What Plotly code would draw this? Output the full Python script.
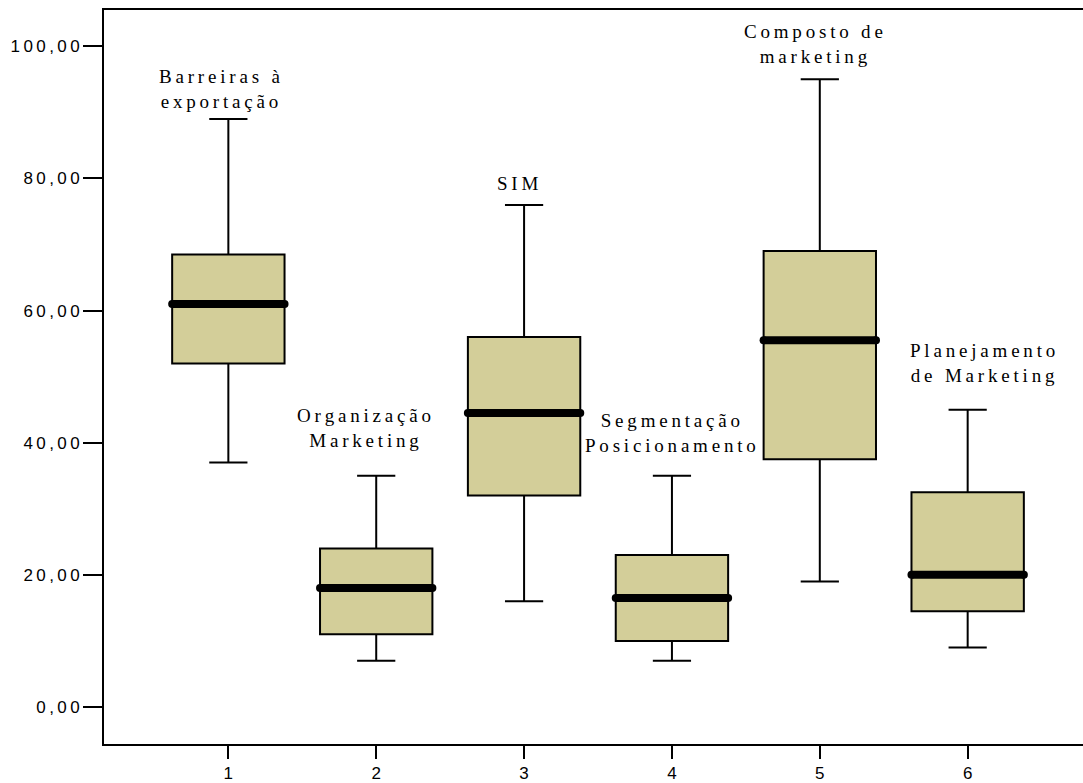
import plotly.graph_objects as go

# Five-number summaries for each group
positions = [1, 2, 3, 4, 5, 6]
lower_whisker = [37.0, 7.0, 16.0, 7.0, 19.0, 9.0]
q1_values = [52.0, 11.0, 32.0, 10.0, 37.5, 14.5]
median_values = [61.0, 18.0, 44.5, 16.5, 55.5, 20.0]
q3_values = [68.5, 24.0, 56.0, 23.0, 69.0, 32.5]
upper_whisker = [89.0, 35.0, 76.0, 35.0, 95.0, 45.0]

group_labels = [
    ["Barreiras à", "exportação"],
    ["Organização", "Marketing"],
    ["SIM"],
    ["Segmentação", "Posicionamento"],
    ["Composto de", "marketing"],
    ["Planejamento", "de Marketing"],
]
label_x = [0.94, 1.92, 2.96, 3.99, 4.96, 6.10]
label_y = [93.6, 42.3, 79.2, 41.5, 100.3, 52.1]

y_ticks = [0, 20, 40, 60, 80, 100]
y_tick_text = ["0,00", "20,00", "40,00", "60,00", "80,00", "100,00"]

BOX_WIDTH = 0.76
FILL = "rgb(211,206,153)"
THIN = "\u2009"


def spaced(text):
    return THIN.join(text)


fig = go.Figure()

fig.add_trace(go.Box(
    x=positions,
    q1=q1_values,
    median=median_values,
    q3=q3_values,
    lowerfence=lower_whisker,
    upperfence=upper_whisker,
    width=BOX_WIDTH,
    whiskerwidth=0.34,
    fillcolor=FILL,
    line=dict(color="black", width=2),
    boxpoints=False,
    hoverinfo="skip",
    showlegend=False,
))

# Heavy median bars drawn over each box
half = BOX_WIDTH / 2
for pos, med in zip(positions, median_values):
    fig.add_trace(go.Scatter(
        x=[pos - half, pos + half],
        y=[med, med],
        mode="lines+markers",
        line=dict(color="black", width=8),
        marker=dict(color="black", size=8, symbol="circle"),
        hoverinfo="skip",
        showlegend=False,
    ))

for lines, x, y in zip(group_labels, label_x, label_y):
    fig.add_annotation(
        x=x, y=y, xref="x", yref="y",
        text="<br>".join(spaced(line) for line in lines),
        showarrow=False,
        xanchor="center", yanchor="middle", align="center",
        font=dict(family="Liberation Serif, Times New Roman, serif", size=19, color="black"),
    )

fig.update_layout(
    width=1083,
    height=783,
    margin=dict(l=104, r=0, t=10, b=34),
    paper_bgcolor="white",
    plot_bgcolor="white",
    font=dict(family="Liberation Sans, Arial, sans-serif", size=17, color="black"),
    xaxis=dict(
        range=[0.159, 6.78],
        tickmode="array",
        tickvals=positions,
        ticktext=[str(p) for p in positions],
        ticks="outside",
        ticklen=13,
        tickwidth=2,
        tickcolor="black",
        showline=True,
        linecolor="black",
        linewidth=2,
        mirror=True,
        showgrid=False,
        zeroline=False,
    ),
    yaxis=dict(
        range=[-5.61, 105.5],
        tickmode="array",
        tickvals=y_ticks,
        ticktext=[spaced(t) for t in y_tick_text],
        ticks="outside",
        ticklen=19,
        tickwidth=2,
        tickcolor="black",
        showline=True,
        linecolor="black",
        linewidth=2,
        mirror=False,
        showgrid=False,
        zeroline=False,
    ),
)

fig.write_html("out.html")
